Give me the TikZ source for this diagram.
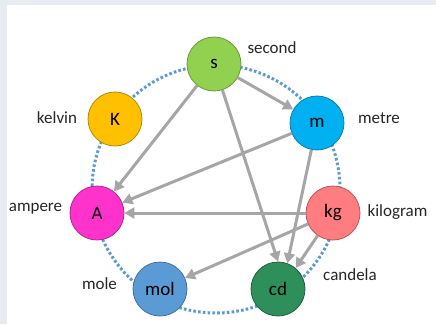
\documentclass[tikz,border=0pt]{standalone}
\usepackage{fontspec}
\setmainfont{Carlito}
\usetikzlibrary{arrows.meta}
\definecolor{cS}{HTML}{92D050}\definecolor{dS}{HTML}{6A9A3A}
\definecolor{cK}{HTML}{FFC000}\definecolor{dK}{HTML}{B08A10}
\definecolor{cM}{HTML}{00B0F0}\definecolor{dM}{HTML}{0A7FAF}
\definecolor{cA}{HTML}{FF33CC}\definecolor{dA}{HTML}{B02690}
\definecolor{cKG}{HTML}{FF7C80}\definecolor{dKG}{HTML}{B0585A}
\definecolor{cMOL}{HTML}{5B9BD5}\definecolor{dMOL}{HTML}{41719C}
\definecolor{cCD}{HTML}{2F8F5B}\definecolor{dCD}{HTML}{1F5F3C}
\definecolor{dotblue}{HTML}{5B9BD5}
\definecolor{arrgray}{HTML}{A6A6A6}
\definecolor{labelc}{HTML}{262626}
\definecolor{strip}{HTML}{E6ECF2}
\begin{document}
\begin{tikzpicture}[x=1pt,y=-1pt,
  unit/.style={circle,minimum size=54pt,inner sep=0pt,line width=0.8pt,font=\fontsize{19}{22}\selectfont,text=black},
  lab/.style={font=\fontsize{17}{20}\selectfont,text=labelc,inner sep=0pt},
  arr/.style={draw=arrgray,line width=3pt,-{Triangle[length=10pt,width=11pt]}}]
\useasboundingbox (0,0) rectangle (436,324);
\fill[strip] (0,0) rectangle (436,5);
\fill[strip] (0,0) rectangle (7,324);
\draw[dotblue,line width=3pt,dash pattern=on 2.6pt off 2.2pt] (216,189) circle[radius=124pt];
\node[unit,fill=cS,draw=dS] (s) at (214,64) {s};
\node[unit,fill=cK,draw=dK] (K) at (115,119) {K};
\node[unit,fill=cM,draw=dM] (m) at (317,123) {m};
\node[unit,fill=cA,draw=dA] (A) at (97,213) {A};
\node[unit,fill=cKG,draw=dKG] (kg) at (333,213) {kg};
\node[unit,fill=cMOL,draw=dMOL] (mol) at (160,289) {mol};
\node[unit,fill=cCD,draw=dCD] (cd) at (278,289) {cd};
\draw[arr] (s) -- (m);
\draw[arr] (s) -- (A);
\draw[arr] (s) -- (cd.north);
\draw[arr] (m) -- (A);
\draw[arr] (m) -- (cd.70);
\draw[arr] (kg) -- (A);
\draw[arr] (kg) -- (mol);
\draw[arr] (kg) -- (cd.50);
\node[lab] (ls) at (272,48) {second};
\node[lab] (lK) at (57,118) {kelvin};
\node[lab] (lm) at (379,118) {metre};
\node[lab] (lA) at (35.5,209) {ampere};
\node[lab] (lkg) at (397.5,212) {kilogram};
\node[lab] (lmol) at (99.5,284) {mole};
\node[lab] (lcd) at (350,275) {candela};
\end{tikzpicture}
\end{document}
